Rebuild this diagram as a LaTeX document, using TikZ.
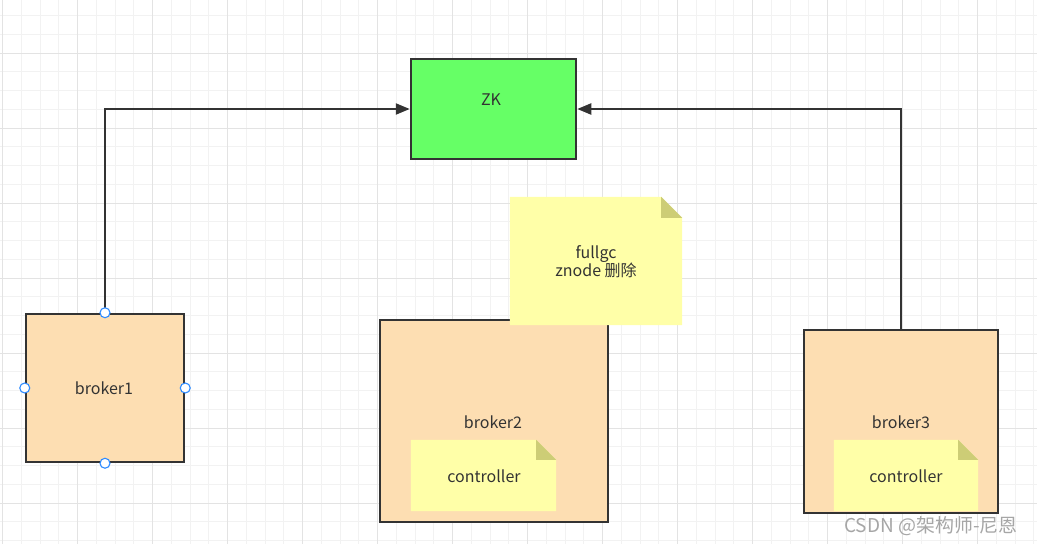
\documentclass[tikz,border=0pt]{standalone}
\usepackage{fontspec}
\setmainfont{Noto Sans CJK SC}
\usetikzlibrary{arrows.meta,calc}
\definecolor{gridminor}{HTML}{F2F2F2}
\definecolor{gridmajor}{HTML}{E3E3E3}
\definecolor{edge}{HTML}{333333}
\definecolor{zkfill}{HTML}{66FF66}
\definecolor{brokerfill}{HTML}{FDDEB2}
\definecolor{notefill}{HTML}{FFFFA8}
\definecolor{notefold}{HTML}{CDCD76}
\definecolor{txt}{HTML}{333333}
\definecolor{handle}{HTML}{2E8BFF}
\definecolor{wm}{HTML}{A6A6A6}
\tikzset{
  box/.style={draw=edge, line width=2.5pt, text=txt, inner sep=0pt},
  zkbox/.style={box, fill=zkfill},
  brokerbox/.style={box, fill=brokerfill},
  notebox/.style={draw=none, fill=none, text=txt, inner sep=0pt, align=center},
  conn/.style={draw=edge, line width=2.2pt, -{Triangle[length=14pt,width=11pt]}},
  handledot/.style={circle, draw=handle, fill=white, line width=1.1pt, minimum size=10pt, inner sep=0pt},
  lbl/.style={text=txt, font=\fontsize{16}{19}\selectfont, inner sep=0pt},
}
\newcommand{\notepaint}[2]{%
  \fill[notefill] (#1.south west) -- (#1.north west) -- ($(#1.north east)+(-#2,0)$) -- ($(#1.north east)+(0,#2)$) -- (#1.south east) -- cycle;
  \fill[notefold] ($(#1.north east)+(-#2,0)$) -- ($(#1.north east)+(-#2,#2)$) -- ($(#1.north east)+(0,#2)$) -- cycle;}
\begin{document}
\begin{tikzpicture}[x=1pt,y=-1pt]
\useasboundingbox (0,0) rectangle (1037,544);
\fill[white] (0,0) rectangle (1037,544);
% grid
\foreach \i in {0,...,55} {
  \pgfmathsetmacro{\gx}{2.7+\i*18.75}
  \draw[gridminor, line width=1pt] (\gx,0) -- (\gx,544);
}
\foreach \i in {0,...,29} {
  \pgfmathsetmacro{\gy}{-3.25+\i*18.75}
  \draw[gridminor, line width=1pt] (0,\gy) -- (1037,\gy);
}
\foreach \i in {0,...,13} {
  \pgfmathsetmacro{\gx}{2.7+\i*75}
  \draw[gridmajor, line width=1pt] (\gx,0) -- (\gx,544);
}
\foreach \i in {0,...,7} {
  \pgfmathsetmacro{\gy}{-22+\i*75}
  \draw[gridmajor, line width=1pt] (0,\gy) -- (1037,\gy);
}
% ZK
\node[zkbox, minimum width=165pt, minimum height=100pt] (zk) at (493.5,109) {};
\node[lbl] (zkl) at (491,100) {ZK};
% brokers
\node[brokerbox, minimum width=158pt, minimum height=148pt] (b1) at (105,388) {};
\node[lbl] (b1l) at (104,388) {broker1};
\node[brokerbox, minimum width=228pt, minimum height=202pt] (b2) at (494,421) {};
\node[lbl] (b2l) at (493,422) {broker2};
\node[brokerbox, minimum width=194pt, minimum height=183pt] (b3) at (901,421.5) {};
\node[lbl] (b3l) at (901,422) {broker3};
% controller notes
\node[notebox, minimum width=145pt, minimum height=71pt] (c2) at (483.5,475.5) {};
\notepaint{c2}{20}
\node[lbl] (c2l) at (484,476) {controller};
\node[notebox, minimum width=144pt, minimum height=71pt] (c3) at (906,475.5) {};
\notepaint{c3}{20}
\node[lbl] (c3l) at (906,476) {controller};
% fullgc note
\node[notebox, minimum width=172pt, minimum height=128pt] (gc) at (596,261) {};
\notepaint{gc}{21}
\node[lbl, align=center] (gcl) at (596,261.5) {fullgc\\[-1.5pt]znode 删除};
% connectors
\coordinate (k1) at (b1.north |- zk.west);
\coordinate (k3) at (b3.north |- zk.east);
\draw[conn] (b1.north) -- (k1) -- (zk.west);
\draw[conn] (b3.north) -- (k3) -- (zk.east);
% selection handles
\node[handledot] (h1) at (b1.north) {};
\node[handledot] (h2) at (b1.west) {};
\node[handledot] (h3) at (b1.east) {};
\node[handledot] (h4) at (b1.south) {};
% watermark
\node[text=wm, font=\fontsize{19}{21}\selectfont, anchor=west, inner sep=0pt] (wmk) at (844,526) {CSDN @架构师-尼恩};
\end{tikzpicture}
\end{document}
